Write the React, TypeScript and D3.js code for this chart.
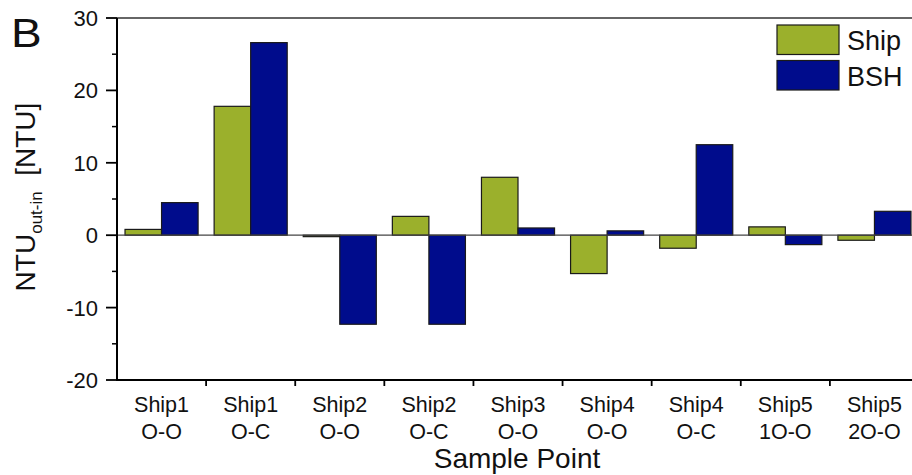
import React from "react";
import * as d3 from "d3";

const categories = ["Ship1|O-O", "Ship1|O-C", "Ship2|O-O", "Ship2|O-C", "Ship3|O-O", "Ship4|O-O", "Ship4|O-C", "Ship5|1O-O", "Ship5|2O-O"];
const shipValues = [0.8, 17.8, -0.2, 2.6, 8.0, -5.3, -1.8, 1.15, -0.7];
const bshValues = [4.5, 26.6, -12.3, -12.3, 1.0, 0.6, 12.5, -1.3, 3.3];
const seriesNames = ["Ship", "BSH"];
const yMajorTicks = [-20, -10, 0, 10, 20, 30];
const yMinorTicks = [-15, -5, 5, 15, 25];

const W = 912, H = 475;
const left = 117, right = 919, top = 18, bottom = 380;
const GREEN = "#9bb02c", BLUE = "#000c8c";
const FONT = "'Liberation Sans', Arial, sans-serif";

export default function App() {
  const x = d3.scaleBand().domain(categories).range([left, right]).paddingInner(0.18).paddingOuter(0.09);
  const x1 = d3.scaleBand().domain(seriesNames).range([0, x.bandwidth()]);
  const y = d3.scaleLinear().domain([-20, 30]).range([bottom, top]);
  const step = x.step();
  const series = [shipValues, bshValues];
  const colors = [GREEN, BLUE];
  const boundaries = categories.slice(1).map((_, i) => left + step * (i + 1));

  return (
    <svg width={W} height={H} style={{ position: "absolute", left: 0, top: 0, background: "#fff" }}>
      <text x={11} y={47} fontFamily={FONT} fontSize={40} fill="#111" transform="translate(11,47) scale(1.15,1) translate(-11,-47)">B</text>
      {/* top frame */}
      <line x1={left} x2={W} y1={top} y2={top} stroke="#333" strokeWidth={1.5} />
      {/* bars */}
      {series.map((vals, s) =>
        vals.map((v, i) => {
          const bx = (x(categories[i]) as number) + (x1(seriesNames[s]) as number);
          const y0 = y(0), yv = y(v);
          return (
            <rect key={s + "-" + i} x={bx} y={Math.min(y0, yv)} width={x1.bandwidth()}
              height={Math.max(Math.abs(yv - y0), 0.5)} fill={colors[s]} stroke="#1a1a1a" strokeWidth={1.2} />
          );
        })
      )}
      {/* zero line */}
      <line x1={left} x2={W} y1={y(0)} y2={y(0)} stroke="#444" strokeWidth={1.3} />
      {/* y axis */}
      <line x1={left} x2={left} y1={top} y2={bottom + 1} stroke="#000" strokeWidth={2} />
      {yMajorTicks.map(t => (
        <g key={"M" + t}>
          <line x1={left - 11} x2={left} y1={y(t)} y2={y(t)} stroke="#000" strokeWidth={1.8} />
          <text x={left - 19} y={y(t)} dy="0.36em" textAnchor="end" fontFamily={FONT} fontSize={22} fill="#111">{t}</text>
        </g>
      ))}
      {yMinorTicks.map(t => (
        <line key={"m" + t} x1={left - 5} x2={left} y1={y(t)} y2={y(t)} stroke="#000" strokeWidth={1.5} />
      ))}
      {/* x axis */}
      <line x1={left - 1} x2={W} y1={bottom} y2={bottom} stroke="#000" strokeWidth={2} />
      {boundaries.map((b, i) => (
        <line key={"xt" + i} x1={b} x2={b} y1={bottom} y2={bottom + 6} stroke="#000" strokeWidth={1.8} />
      ))}
      {categories.map(c => {
        const [a, b] = c.split("|");
        const cx = (x(c) as number) + x.bandwidth() / 2;
        return (
          <g key={c}>
            <text x={cx} y={412} textAnchor="middle" fontFamily={FONT} fontSize={21.5} fill="#111">{a}</text>
            <text x={cx} y={439} textAnchor="middle" fontFamily={FONT} fontSize={21.5} fill="#111">{b}</text>
          </g>
        );
      })}
      <text x={517} y={468} textAnchor="middle" fontFamily={FONT} fontSize={28} fill="#111">Sample Point</text>
      <text transform="translate(35,197) rotate(-90)" textAnchor="middle" fontFamily={FONT} fontSize={28} fill="#111">
        NTU<tspan fontSize={17} dy={7}>out-in</tspan><tspan dy={-7}>{"\u00a0\u00a0[NTU]"}</tspan>
      </text>
      {/* legend */}
      {seriesNames.map((n, i) => (
        <g key={n}>
          <rect x={777} y={25 + i * 35.5} width={62} height={29.5} fill={colors[i]} stroke="#1a1a1a" strokeWidth={1.2} />
          <text x={847} y={50 + i * 35.5} fontFamily={FONT} fontSize={27} fill="#111">{n}</text>
        </g>
      ))}
    </svg>
  );
}
